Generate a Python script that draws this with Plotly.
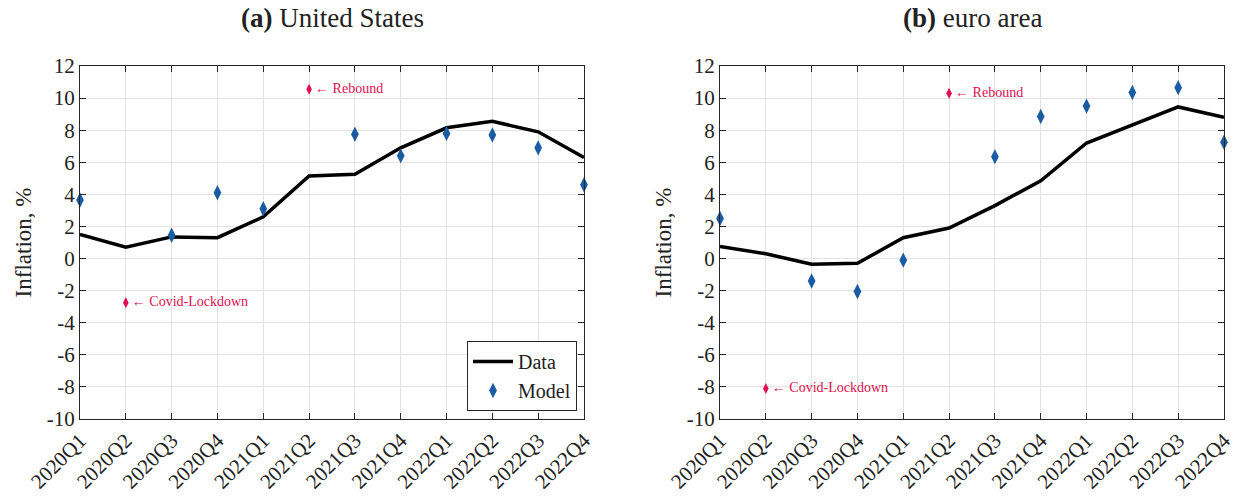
import plotly.graph_objects as go

quarters = ["2020Q1", "2020Q2", "2020Q3", "2020Q4", "2021Q1", "2021Q2",
            "2021Q3", "2021Q4", "2022Q1", "2022Q2", "2022Q3", "2022Q4"]

us_data = [1.5, 0.7, 1.35, 1.3, 2.6, 5.15, 5.25, 6.9, 8.15, 8.55, 7.9, 6.3]
us_model = [3.65, None, 1.45, 4.1, 3.1, None, 7.75, 6.4, 7.8, 7.7, 6.9, 4.6]
us_events_x = ["2020Q2", "2021Q2"]
us_events_y = [-2.75, 10.55]

ea_data = [0.75, 0.3, -0.35, -0.3, 1.3, 1.9, 3.3, 4.85, 7.2, 8.3, 9.45, 8.8]
ea_model = [2.5, None, -1.4, -2.05, -0.1, None, 6.35, 8.85, 9.5, 10.35, 10.65, 7.25]
ea_events_x = ["2020Q2", "2021Q2"]
ea_events_y = [-8.1, 10.3]

event_labels = ["\u2190 Covid-Lockdown", "\u2190 Rebound"]

y_ticks = list(range(-10, 13, 2))
y_tick_text = [str(v) for v in y_ticks]

FONT = "Liberation Serif"
BLUE = "#1a5ca3"
RED = "#e0114f"

fig = go.Figure()

panels = [("x", "y", us_data, us_model, us_events_x, us_events_y, True),
          ("x2", "y2", ea_data, ea_model, ea_events_x, ea_events_y, False)]

for xa, ya, d, m, ex, ey, show in panels:
    fig.add_trace(go.Scatter(x=quarters, y=d, mode="lines", name="Data",
                             line=dict(color="black", width=3.5),
                             xaxis=xa, yaxis=ya, showlegend=show, cliponaxis=False))
    fig.add_trace(go.Scatter(x=quarters, y=m, mode="markers", name="Model",
                             marker=dict(symbol="diamond-tall", size=11, color=BLUE),
                             xaxis=xa, yaxis=ya, showlegend=show, cliponaxis=False))
    fig.add_trace(go.Scatter(x=ex, y=ey, mode="markers+text", text=event_labels,
                             textposition="middle right",
                             textfont=dict(family=FONT, size=14, color=RED),
                             marker=dict(symbol="diamond-tall", size=8, color=RED),
                             xaxis=xa, yaxis=ya, showlegend=False, cliponaxis=False))

axis_common = dict(showline=True, linecolor="#262626", linewidth=1, mirror="allticks",
                   ticks="inside", ticklen=6, tickcolor="#262626", automargin=False,
                   showgrid=True, gridcolor="#e3e3e3", gridwidth=1, zeroline=False,
                   tickfont=dict(family=FONT, size=21, color="#222"))

xaxis_common = dict(axis_common, type="category", categoryorder="array",
                    categoryarray=quarters, tickangle=-45, range=[0, 11])
yaxis_common = dict(axis_common, range=[-10, 12], tickvals=y_ticks, ticktext=y_tick_text,
                    title=dict(text="Inflation, %", font=dict(family=FONT, size=23, color="#222"),
                               standoff=8))

fig.update_layout(
    width=1245, height=497,
    margin=dict(l=0, r=0, t=0, b=0),
    paper_bgcolor="white", plot_bgcolor="white",
    xaxis=dict(xaxis_common, domain=[80 / 1245, 584 / 1245], anchor="y"),
    yaxis=dict(yaxis_common, domain=[1 - 419 / 497, 1 - 66 / 497], anchor="x"),
    xaxis2=dict(xaxis_common, domain=[720 / 1245, 1224 / 1245], anchor="y2"),
    yaxis2=dict(yaxis_common, domain=[1 - 419 / 497, 1 - 66 / 497], anchor="x2"),
    showlegend=True,
    legend=dict(x=577 / 1245, y=1 - 411 / 497, xanchor="right", yanchor="bottom",
                bordercolor="#262626", borderwidth=1, bgcolor="white",
                font=dict(family=FONT, size=20, color="#222"),
                itemwidth=40, tracegroupgap=0),
    annotations=[
        dict(text="<b>(a)</b> United States", x=332 / 1245, y=1 - 18 / 497,
             xref="paper", yref="paper", showarrow=False, xanchor="center", yanchor="middle",
             font=dict(family=FONT, size=27, color="#222")),
        dict(text="<b>(b)</b> euro area", x=972 / 1245, y=1 - 18 / 497,
             xref="paper", yref="paper", showarrow=False, xanchor="center", yanchor="middle",
             font=dict(family=FONT, size=27, color="#222")),
    ],
)

fig.write_html("out.html")
